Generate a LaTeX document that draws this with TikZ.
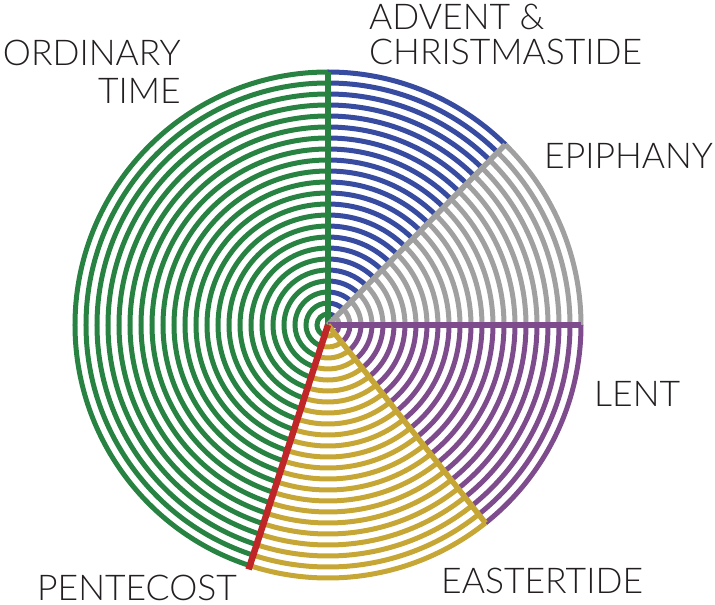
\documentclass[tikz,border=0pt]{standalone}
\usepackage{fontspec}
\setmainfont{Lato}[UprightFont=* Light]
\definecolor{ordgreen}{RGB}{40,131,66}
\definecolor{advblue}{RGB}{55,76,160}
\definecolor{epigray}{RGB}{160,160,160}
\definecolor{lentpurple}{RGB}{126,76,141}
\definecolor{eastgold}{RGB}{198,166,52}
\definecolor{pentred}{RGB}{190,38,40}
\definecolor{labelink}{RGB}{35,31,32}
\begin{document}
\begin{tikzpicture}[x=1pt,y=1pt,
    ring/.style={line width=5pt},
    spoke/.style={line width=5.5pt},
    season/.style={font=\fontsize{35.5}{37}\selectfont, text=labelink, inner sep=0pt}
]
\useasboundingbox (-328,-280) rectangle (387,325);
\coordinate (hub) at (0,0);

% rings of each season
\foreach \from/\to/\col in {90/252/ordgreen, 45.5/90/advblue, 0/45.5/epigray, -51.5/0/lentpurple, -108/-51.5/eastgold}{
  \foreach \r in {11,22,...,253}
    \draw[ring,\col] (\from:\r) arc (\from:\to:\r);
}

% season borders
\coordinate (rimord) at (90:253);
\coordinate (rimepi) at (45.5:253);
\coordinate (rimlent) at (0:253);
\coordinate (rimeast) at (-51.5:253);
\coordinate (rimpent) at (252:257);
\draw[spoke,ordgreen] (hub) -- (rimord);
\draw[spoke,epigray] (hub) -- (rimepi);
\draw[spoke,lentpurple] (hub) -- (rimlent);
\draw[spoke,eastgold] (hub) -- (rimeast);
\draw[spoke,pentred,line width=6.5pt] (hub) -- (rimpent);

\node[season, anchor=base west] (advent) at (41,295) {ADVENT \&};
\node[season, anchor=base west] (christmas) at (41,260) {CHRISTMASTIDE};
\node[season, anchor=base east] (ordinary) at (-147,259) {ORDINARY};
\node[season, anchor=base east] (time) at (-147,221) {TIME};
\node[season, anchor=base west] (epiphany) at (216,156) {EPIPHANY};
\node[season, anchor=base west] (lent) at (266,-81) {LENT};
\node[season, anchor=base west] (eastertide) at (113,-268) {EASTERTIDE};
\node[season, anchor=base west] (pentecost) at (-291,-275) {PENTECOST};
\end{tikzpicture}
\end{document}
